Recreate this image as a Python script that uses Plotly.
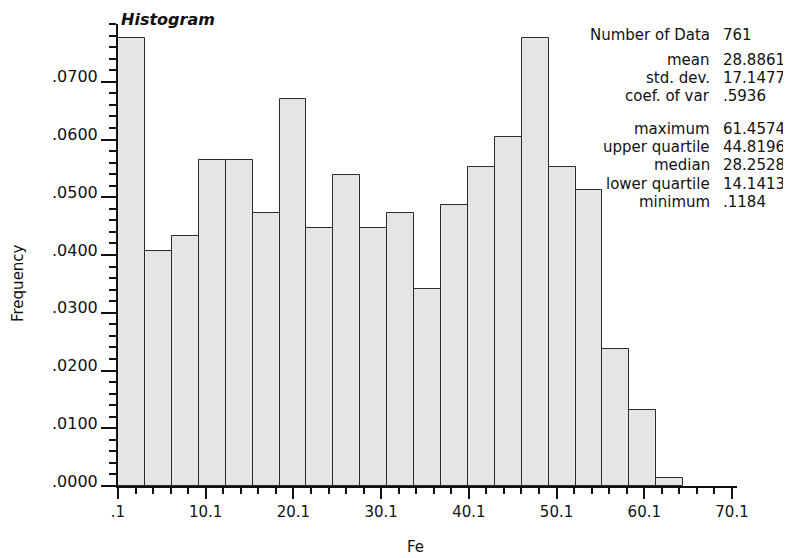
import plotly.graph_objects as go

# ---- data ----
n_data = 761
bin_lefts = [0.1184, 3.1854, 6.2524, 9.3194, 12.3864, 15.4534, 18.5204, 21.5874,
             24.6544, 27.7214, 30.7884, 33.8554, 36.9224, 39.9894, 43.0564, 46.1234,
             49.1904, 52.2574, 55.3244, 58.3914, 61.4584]
bin_width = 3.067
counts = [59, 31, 33, 43, 43, 36, 51, 34, 41, 34, 36, 26, 37, 42, 46, 59, 42, 39, 18, 10, 1]
frequency = [c / n_data for c in counts]

x_tickvals = [0.1, 10.1, 20.1, 30.1, 40.1, 50.1, 60.1, 70.1]
x_ticktext = [".1", "10.1", "20.1", "30.1", "40.1", "50.1", "60.1", "70.1"]
y_tickvals = [0.0, 0.01, 0.02, 0.03, 0.04, 0.05, 0.06, 0.07]
y_ticktext = [".0000", ".0100", ".0200", ".0300", ".0400", ".0500", ".0600", ".0700"]

stat_labels = ["Number of Data", "mean", "std. dev.", "coef. of var",
               "maximum", "upper quartile", "median", "lower quartile", "minimum"]
stat_values = ["761", "28.8861", "17.1477", ".5936",
               "61.4574", "44.8196", "28.2528", "14.1413", ".1184"]

# ---- layout constants (pixels) ----
PAGE_OFF = 8                      # browser body margin
W, H = 791 - PAGE_OFF, 558 - PAGE_OFF
L, R, T, B = 110, 54, 16, 72
plot_w = W - L - R
plot_h = H - T - B
stat_rows_px = [35, 60, 78, 96, 129, 147, 165, 184, 202]   # page pixels
label_right_px = 712
value_left_px = 721

FONT = "DejaVu Sans"
INK = "#111111"

fig = go.Figure()
fig.add_trace(go.Bar(
    x=bin_lefts, y=frequency, width=bin_width, offset=0,
    marker=dict(color="#e5e5e5", line=dict(color="#2a2a2a", width=1)),
    showlegend=False,
))

def px_to_paper_x(px):
    return (px - PAGE_OFF - L) / plot_w

def px_to_paper_y(py):
    return (H - B - (py - PAGE_OFF)) / plot_h

annotations = []
for lab, val, py in zip(stat_labels, stat_values, stat_rows_px):
    annotations.append(dict(
        text=lab, xref="paper", yref="paper",
        x=px_to_paper_x(label_right_px), y=px_to_paper_y(py),
        xanchor="right", yanchor="middle", showarrow=False,
        font=dict(family=FONT, size=15, color=INK)))
    annotations.append(dict(
        text=val, xref="paper", yref="paper",
        x=px_to_paper_x(value_left_px), y=px_to_paper_y(py),
        xanchor="left", yanchor="middle", showarrow=False,
        font=dict(family=FONT, size=15, color=INK)))

# chart title and axis titles (placed as in the reference)
annotations.append(dict(
    text="<b><i>Histogram</i></b>", xref="paper", yref="paper",
    x=px_to_paper_x(120), y=px_to_paper_y(9), xanchor="left", yanchor="top",
    showarrow=False, borderpad=0, font=dict(family=FONT, size=16, color=INK)))
annotations.append(dict(
    text="Frequency", xref="paper", yref="paper",
    x=px_to_paper_x(18), y=px_to_paper_y(283), xanchor="center", yanchor="middle",
    textangle=-90, showarrow=False, font=dict(family=FONT, size=15, color=INK)))
annotations.append(dict(
    text="Fe", xref="paper", yref="paper",
    x=px_to_paper_x(415), y=px_to_paper_y(547), xanchor="center", yanchor="middle",
    showarrow=False, font=dict(family=FONT, size=15, color=INK)))

fig.update_layout(
    width=W, height=H,
    margin=dict(l=L, r=R, t=T, b=B, autoexpand=False),
    paper_bgcolor="white", plot_bgcolor="white",
    bargap=0,
    font=dict(family=FONT, size=15, color=INK),
    annotations=annotations,
    xaxis=dict(
        range=[0.1, 70.67], showgrid=False, zeroline=False,
        showline=True, linecolor=INK, linewidth=2,
        ticks="outside", ticklen=11, tickwidth=1.5, tickcolor=INK,
        tickvals=x_tickvals, ticktext=x_ticktext,
        tickfont=dict(family=FONT, size=15, color=INK),
        minor=dict(ticks="outside", tick0=0.1, dtick=2, ticklen=6, tickwidth=1.5, tickcolor=INK),
    ),
    yaxis=dict(
        range=[0, 0.08], showgrid=False, zeroline=False,
        showline=True, linecolor=INK, linewidth=2,
        ticks="outside", ticklen=15, tickwidth=1.5, tickcolor=INK,
        tickvals=y_tickvals, ticktext=y_ticktext,
        tickfont=dict(family=FONT, size=16, color=INK),
        ticklabelshift=-5,
        minor=dict(ticks="outside", tick0=0, dtick=0.002, ticklen=7, tickwidth=1.5, tickcolor=INK),
    ),
)

fig.write_html("out.html")
